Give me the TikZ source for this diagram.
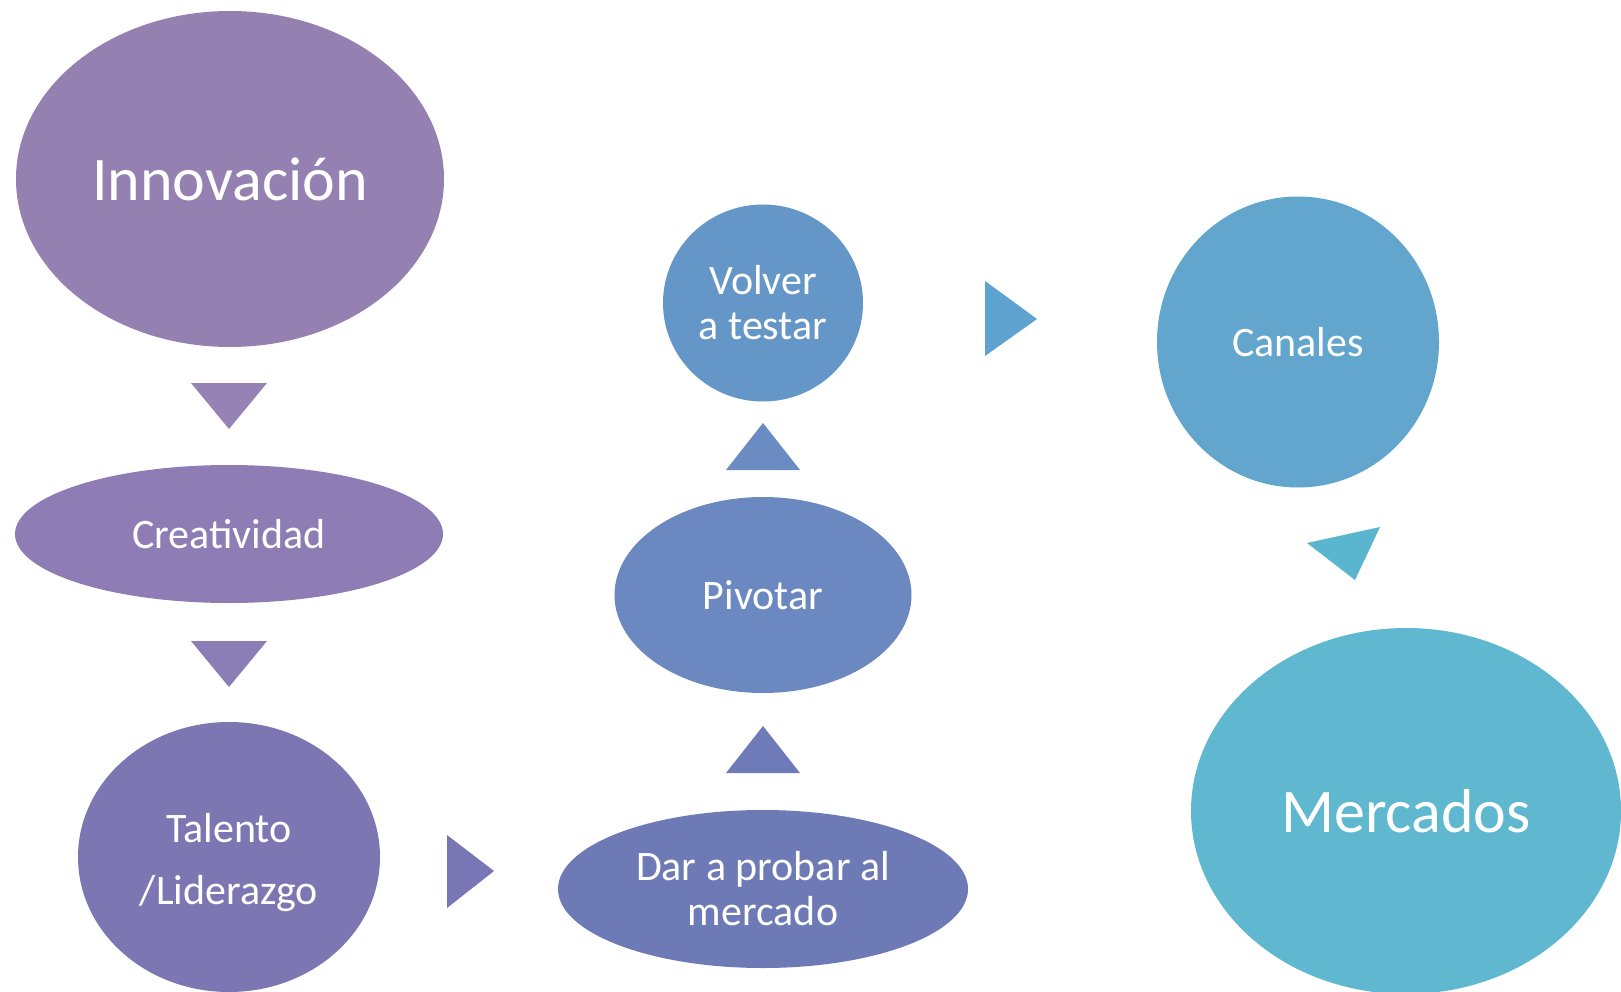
\documentclass[tikz,border=0pt]{standalone}
\usepackage{fontspec}
\setmainfont{Carlito}
\usetikzlibrary{shapes.geometric}
\definecolor{cInnov}{HTML}{9580B2}
\definecolor{cCreat}{HTML}{8D7DB4}
\definecolor{cTalent}{HTML}{7C76B2}
\definecolor{cDar}{HTML}{6D7AB6}
\definecolor{cPivot}{HTML}{6C88C0}
\definecolor{cVolver}{HTML}{6596C8}
\definecolor{cCanales}{HTML}{62A6CE}
\definecolor{cMerc}{HTML}{5FB8D0}
\definecolor{tA}{HTML}{9682B4}
\definecolor{tB}{HTML}{8B7DB6}
\definecolor{tC}{HTML}{7876B4}
\definecolor{tD}{HTML}{6F7BB8}
\definecolor{tE}{HTML}{6A8CC3}
\definecolor{tF}{HTML}{5EA2CF}
\definecolor{tG}{HTML}{5AB5CE}
\tikzset{
  blob/.style={ellipse, inner sep=0pt, text=white, align=center},
  small/.style={font=\fontsize{42}{45}\selectfont},
  big/.style={font=\fontsize{62}{66}\selectfont},
}
\begin{document}
\begin{tikzpicture}[x=1pt,y=-1pt]
\useasboundingbox (0,0) rectangle (1621,992);
\fill[white] (0,0) rectangle (1621,992);
% nodes
\node[blob, big, fill=cInnov, minimum width=428pt, minimum height=336pt] (innov) at (230,179) {Innovación};
\node[blob, small, fill=cCreat, minimum width=428pt, minimum height=138pt] (creat) at (229,534) {Creatividad};
\node[blob, fill=cTalent, minimum width=302pt, minimum height=270pt] (talent) at (229,857) {};
\node[text=white, align=center, inner sep=0pt, font=\fontsize{42}{62}\selectfont] (talentlbl) at ([yshift=-6pt]talent.center) {Talento\\/Liderazgo};
\node[blob, small, fill=cDar, minimum width=410pt, minimum height=158pt] (dar) at (763,889) {Dar a probar al\\mercado};
\node[blob, small, fill=cPivot, minimum width=297pt, minimum height=196pt] (pivot) at (763,595) {Pivotar};
\node[blob, small, fill=cVolver, minimum width=200pt, minimum height=197pt] (volver) at (763,303) {Volver\\a testar};
\node[blob, small, fill=cCanales, minimum width=282pt, minimum height=291pt] (canales) at (1298,342) {Canales};
\node[blob, big, fill=cMerc, minimum width=430pt, minimum height=366pt] (merc) at (1406,811) {Mercados};
% connectors (triangles)
\fill[tA] (191,383) -- (267,383) -- (229,429) -- cycle;
\fill[tB] (191,641) -- (267,641) -- (229,687) -- cycle;
\fill[tC] (447,835) -- (447,908) -- (494,871) -- cycle;
\fill[tD] (726,773) -- (800,773) -- (763,726) -- cycle;
\fill[tE] (726,470) -- (800,470) -- (763,423) -- cycle;
\fill[tF] (985,281) -- (985,356) -- (1037,319) -- cycle;
\fill[tG] (1307,543) -- (1380,527) -- (1355,580) -- cycle;
\end{tikzpicture}
\end{document}
